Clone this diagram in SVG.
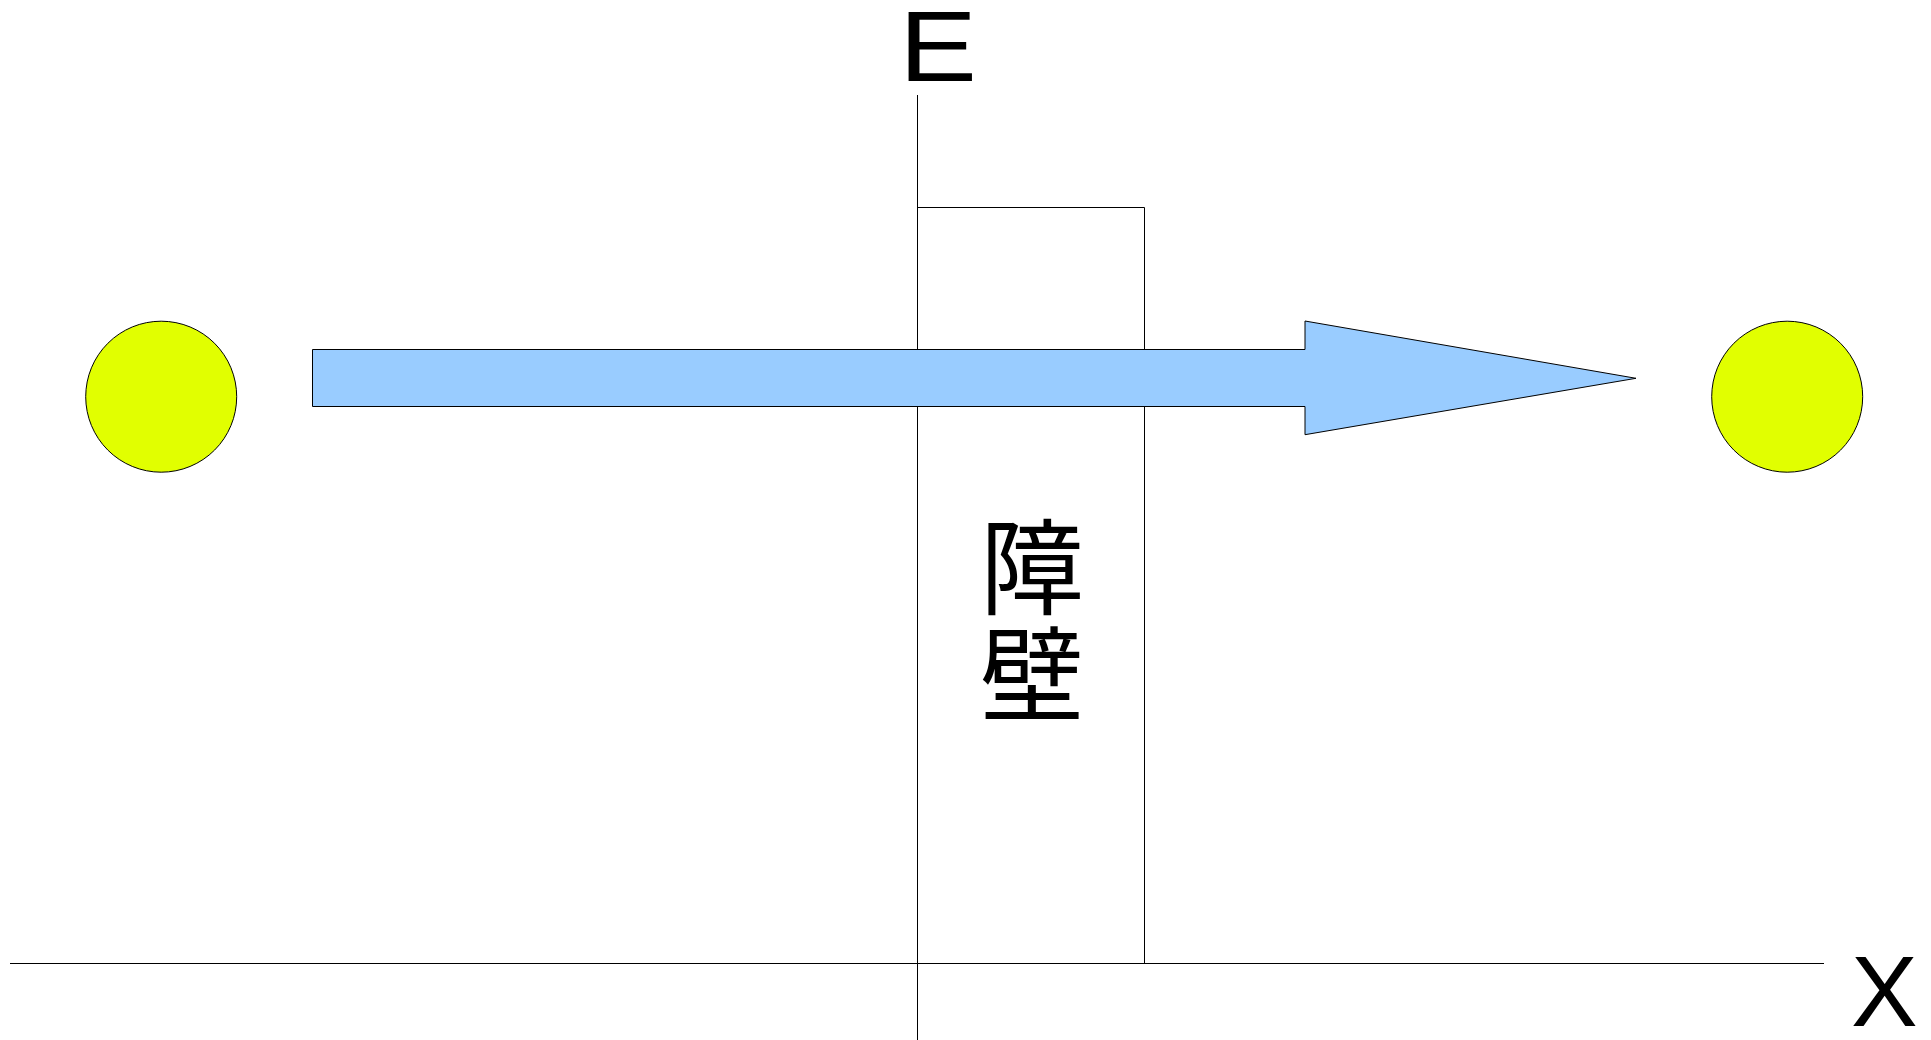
<svg xmlns="http://www.w3.org/2000/svg" width="1931" height="1040" viewBox="0 0 1931 1040">
<style>
.ax{stroke:#000;stroke-width:1;fill:none}
.ball{fill:#e1ff00;stroke:#000;stroke-width:1}
.lbl{font-family:"Liberation Sans",Arial,sans-serif;font-size:100px;fill:#000}
.cjk{font-family:"Noto Sans CJK JP","Noto Sans CJK SC",sans-serif;font-size:104px;fill:#000}
</style>
<rect width="1931" height="1040" fill="#fff"/>
<g id="axes">
<line class="ax" x1="917.5" y1="95" x2="917.5" y2="1040"/>
<line class="ax" x1="10" y1="963.5" x2="1824" y2="963.5"/>
<text class="lbl" x="899" y="81" textLength="78" lengthAdjust="spacingAndGlyphs">E</text>
<text class="lbl" x="1851" y="1026">X</text>
</g>
<g id="barrier">
<polyline class="ax" points="917.5,207.5 1144.5,207.5 1144.5,963.5"/>
<text class="cjk" text-anchor="middle"><tspan x="1032" y="607">障</tspan><tspan x="1032" y="714">壁</tspan></text>
</g>
<g id="ball-left"><circle class="ball" cx="161.2" cy="396.7" r="75.5"/></g>
<g id="ball-right"><circle class="ball" cx="1787.2" cy="396.7" r="75.5"/></g>
<g id="connectors">
<polygon id="arrow" points="312.5,349.5 1305,349.5 1305,321 1636,378.3 1305,434.7 1305,406.5 312.5,406.5" fill="#99ccff" stroke="#000" stroke-width="1"/>
</g>
</svg>
